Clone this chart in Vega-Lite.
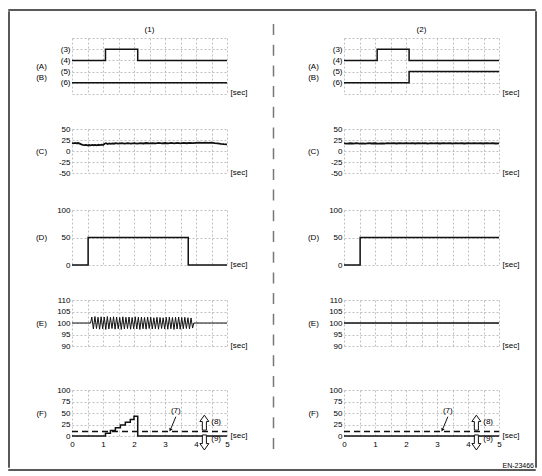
{
  "$schema": "https://vega.github.io/schema/vega-lite/v6.json",
  "padding": {"left": 8, "top": 9, "right": 2, "bottom": 2},
  "background": "white",
  "config": {
    "font": "Liberation Sans",
    "view": {"stroke": null},
    "axis": {"domain": false, "ticks": false, "grid": true, "gridColor": "#b0b0b0", "gridDash": [2, 2], "gridWidth": 0.8, "labelFontSize": 8, "labelColor": "#000", "labelPadding": 2, "labelFlush": false, "labelOverlap": false, "labelBound": false, "titleFontSize": 8, "titleFontWeight": "normal", "titleColor": "#000", "titlePadding": 0},
    "title": {"fontSize": 8, "fontWeight": "normal", "color": "#000"},
    "point": {"opacity": 1}
  },
  "datasets": {
    "abL": [{"s": "A", "t": 0, "v": 3}, {"s": "A", "t": 1.08, "v": 4}, {"s": "A", "t": 2.12, "v": 3}, {"s": "A", "t": 5, "v": 3}, {"s": "B", "t": 0, "v": 1}, {"s": "B", "t": 5, "v": 1}],
    "abR": [{"s": "A", "t": 0, "v": 3}, {"s": "A", "t": 1.07, "v": 4}, {"s": "A", "t": 2.1, "v": 3}, {"s": "A", "t": 5, "v": 3}, {"s": "B", "t": 0, "v": 1}, {"s": "B", "t": 2.1, "v": 2}, {"s": "B", "t": 5, "v": 2}],
    "cL": [{"t": 0, "v": 18}, {"t": 0.05, "v": 17.2}, {"t": 0.1, "v": 18.4}, {"t": 0.15, "v": 17.6}, {"t": 0.2, "v": 18.1}, {"t": 0.25, "v": 16.8}, {"t": 0.3, "v": 15.2}, {"t": 0.35, "v": 14.1}, {"t": 0.4, "v": 13.3}, {"t": 0.45, "v": 14.0}, {"t": 0.5, "v": 12.8}, {"t": 0.55, "v": 13.6}, {"t": 0.6, "v": 12.9}, {"t": 0.65, "v": 13.8}, {"t": 0.7, "v": 13.1}, {"t": 0.75, "v": 13.9}, {"t": 0.8, "v": 13.0}, {"t": 0.85, "v": 14.1}, {"t": 0.9, "v": 13.4}, {"t": 0.95, "v": 14.3}, {"t": 1.0, "v": 13.7}, {"t": 1.05, "v": 16.5}, {"t": 1.1, "v": 17.6}, {"t": 1.15, "v": 15.9}, {"t": 1.2, "v": 17.2}, {"t": 1.25, "v": 16.3}, {"t": 1.3, "v": 17.4}, {"t": 1.35, "v": 16.6}, {"t": 1.4, "v": 17.8}, {"t": 1.5, "v": 16.9}, {"t": 1.6, "v": 17.7}, {"t": 1.7, "v": 16.8}, {"t": 1.8, "v": 17.9}, {"t": 1.9, "v": 17.0}, {"t": 2.0, "v": 17.8}, {"t": 2.1, "v": 16.9}, {"t": 2.2, "v": 18.0}, {"t": 2.3, "v": 17.1}, {"t": 2.4, "v": 18.2}, {"t": 2.5, "v": 17.3}, {"t": 2.6, "v": 18.1}, {"t": 2.7, "v": 17.2}, {"t": 2.8, "v": 18.3}, {"t": 2.9, "v": 17.4}, {"t": 3.0, "v": 18.2}, {"t": 3.1, "v": 17.3}, {"t": 3.2, "v": 18.4}, {"t": 3.3, "v": 17.5}, {"t": 3.4, "v": 18.3}, {"t": 3.5, "v": 17.4}, {"t": 3.6, "v": 18.5}, {"t": 3.7, "v": 17.6}, {"t": 3.8, "v": 18.4}, {"t": 3.9, "v": 17.7}, {"t": 4.0, "v": 18.6}, {"t": 4.1, "v": 18.9}, {"t": 4.2, "v": 18.3}, {"t": 4.3, "v": 19.1}, {"t": 4.4, "v": 18.4}, {"t": 4.5, "v": 18.8}, {"t": 4.6, "v": 17.9}, {"t": 4.7, "v": 17.2}, {"t": 4.8, "v": 16.1}, {"t": 4.9, "v": 15.4}, {"t": 5.0, "v": 15.0}],
    "cR": [{"t": 0, "v": 17.5}, {"t": 0.1, "v": 16.9}, {"t": 0.2, "v": 17.6}, {"t": 0.3, "v": 17.0}, {"t": 0.4, "v": 17.8}, {"t": 0.5, "v": 16.8}, {"t": 0.6, "v": 17.4}, {"t": 0.7, "v": 16.9}, {"t": 0.8, "v": 17.7}, {"t": 0.9, "v": 17.1}, {"t": 1.0, "v": 17.6}, {"t": 1.1, "v": 16.8}, {"t": 1.2, "v": 17.5}, {"t": 1.3, "v": 17.0}, {"t": 1.4, "v": 17.8}, {"t": 1.5, "v": 17.2}, {"t": 1.6, "v": 17.9}, {"t": 1.7, "v": 17.1}, {"t": 1.8, "v": 17.7}, {"t": 1.9, "v": 17.3}, {"t": 2.0, "v": 18.0}, {"t": 2.1, "v": 17.2}, {"t": 2.2, "v": 17.8}, {"t": 2.3, "v": 17.1}, {"t": 2.4, "v": 17.9}, {"t": 2.5, "v": 17.3}, {"t": 2.6, "v": 17.7}, {"t": 2.7, "v": 17.0}, {"t": 2.8, "v": 17.8}, {"t": 2.9, "v": 17.2}, {"t": 3.0, "v": 17.6}, {"t": 3.1, "v": 17.1}, {"t": 3.2, "v": 17.9}, {"t": 3.3, "v": 17.3}, {"t": 3.4, "v": 17.7}, {"t": 3.5, "v": 17.0}, {"t": 3.6, "v": 17.8}, {"t": 3.7, "v": 17.2}, {"t": 3.8, "v": 17.6}, {"t": 3.9, "v": 17.1}, {"t": 4.0, "v": 17.7}, {"t": 4.1, "v": 17.2}, {"t": 4.2, "v": 17.8}, {"t": 4.3, "v": 17.3}, {"t": 4.4, "v": 17.6}, {"t": 4.5, "v": 17.1}, {"t": 4.6, "v": 17.7}, {"t": 4.7, "v": 17.2}, {"t": 4.8, "v": 17.6}, {"t": 4.9, "v": 17.1}, {"t": 5.0, "v": 17.4}],
    "dL": [{"t": 0, "v": 0}, {"t": 0.52, "v": 50}, {"t": 3.75, "v": 0}, {"t": 5, "v": 0}],
    "dR": [{"t": 0, "v": 0}, {"t": 0.52, "v": 50}, {"t": 5, "v": 50}],
    "eL": [{"t": 0, "v": 100}, {"t": 0.6, "v": 100}, {"t": 0.64, "v": 102.6}, {"t": 0.69, "v": 97.4}, {"t": 0.74, "v": 102.8}, {"t": 0.79, "v": 97.6}, {"t": 0.84, "v": 102.5}, {"t": 0.89, "v": 97.3}, {"t": 0.94, "v": 102.7}, {"t": 0.99, "v": 97.5}, {"t": 1.04, "v": 102.6}, {"t": 1.09, "v": 97.2}, {"t": 1.14, "v": 102.8}, {"t": 1.19, "v": 97.4}, {"t": 1.24, "v": 102.5}, {"t": 1.29, "v": 97.6}, {"t": 1.34, "v": 102.7}, {"t": 1.39, "v": 97.3}, {"t": 1.44, "v": 102.6}, {"t": 1.49, "v": 97.5}, {"t": 1.54, "v": 102.4}, {"t": 1.59, "v": 97.2}, {"t": 1.64, "v": 102.7}, {"t": 1.69, "v": 97.4}, {"t": 1.74, "v": 102.5}, {"t": 1.79, "v": 97.6}, {"t": 1.84, "v": 102.6}, {"t": 1.89, "v": 97.3}, {"t": 1.94, "v": 102.4}, {"t": 1.99, "v": 97.5}, {"t": 2.04, "v": 102.7}, {"t": 2.09, "v": 97.4}, {"t": 2.14, "v": 102.5}, {"t": 2.19, "v": 97.2}, {"t": 2.24, "v": 102.6}, {"t": 2.29, "v": 97.5}, {"t": 2.34, "v": 102.4}, {"t": 2.39, "v": 97.3}, {"t": 2.44, "v": 102.6}, {"t": 2.49, "v": 97.6}, {"t": 2.54, "v": 102.5}, {"t": 2.59, "v": 97.4}, {"t": 2.64, "v": 102.3}, {"t": 2.69, "v": 97.5}, {"t": 2.74, "v": 102.5}, {"t": 2.79, "v": 97.3}, {"t": 2.84, "v": 102.4}, {"t": 2.89, "v": 97.6}, {"t": 2.94, "v": 102.3}, {"t": 2.99, "v": 97.4}, {"t": 3.04, "v": 102.5}, {"t": 3.09, "v": 97.3}, {"t": 3.14, "v": 102.6}, {"t": 3.19, "v": 97.5}, {"t": 3.24, "v": 102.4}, {"t": 3.29, "v": 97.2}, {"t": 3.34, "v": 102.5}, {"t": 3.39, "v": 97.4}, {"t": 3.44, "v": 102.6}, {"t": 3.49, "v": 97.3}, {"t": 3.54, "v": 102.4}, {"t": 3.59, "v": 97.5}, {"t": 3.64, "v": 102.5}, {"t": 3.69, "v": 97.6}, {"t": 3.74, "v": 102.3}, {"t": 3.79, "v": 97.4}, {"t": 3.84, "v": 102.2}, {"t": 3.89, "v": 97.8}, {"t": 3.93, "v": 100}, {"t": 5, "v": 100}],
    "eR": [{"t": 0, "v": 100}, {"t": 5, "v": 100}],
    "fL": [{"t": 0, "v": 0}, {"t": 1.08, "v": 6}, {"t": 1.24, "v": 12}, {"t": 1.4, "v": 18}, {"t": 1.56, "v": 24}, {"t": 1.72, "v": 30}, {"t": 1.88, "v": 36}, {"t": 2.0, "v": 43}, {"t": 2.12, "v": 0}, {"t": 5, "v": 0}],
    "fR": [{"t": 0, "v": 0}, {"t": 5, "v": 0}],
    "thr": [{"t": 0, "v": 10}, {"t": 5, "v": 10}],
    "fLab": [{"t": 3.35, "v": 54, "txt": "(7)"}, {"t": 4.65, "v": 30, "txt": "(8)"}, {"t": 4.65, "v": -7, "txt": "(9)"}],
    "fArr": [{"t": 3.35, "v": 42, "t2": 3.19, "v2": 16}],
    "fHead": [{"t": 3.17, "v": 13}],
    "blk": [{"dir": "up", "t": 4.27, "v": 29}, {"dir": "down", "t": 4.27, "v": -14}]
  },
  "spacing": 0,
  "vconcat": [
    {"width": 526, "height": 0.01, "data": {"values": []}, "mark": "point", "view": {"stroke": "#222", "strokeWidth": 1.5}},
    {"spacing": 25, "hconcat": [
      {"width": 0.01, "height": 455, "data": {"values": []}, "mark": "point", "view": {"stroke": "#222", "strokeWidth": 1.5}},
      {"spacing": 1, "hconcat": [
        {"spacing": 25, "hconcat": [
          {"bounds": "flush", "spacing": 0, "vconcat": [
            {"width": 1, "height": 26, "data": {"values": []}, "mark": "point"},
            {"width": 155, "height": 56, "title": {"text": "(1)", "frame": "group", "offset": 0}, "data": {"name": "abL"},
              "mark": {"type": "line", "interpolate": "step-after", "color": "#111", "strokeWidth": 1.5},
              "encoding": {
                "x": {"field": "t", "type": "quantitative", "scale": {"domain": [0, 5], "nice": false}, "axis": {"values": [0, 0.5, 1, 1.5, 2, 2.5, 3, 3.5, 4, 4.5, 5], "labels": false, "title": "[sec]", "titleX": 158, "titleY": -2, "titleAlign": "left", "titleBaseline": "middle"}},
                "y": {"field": "v", "type": "quantitative", "scale": {"domain": [0, 5], "nice": false}, "axis": {"values": [0, 1, 2, 3, 4, 5], "labelExpr": "datum.value == 4 ? '(3)' : datum.value == 3 ? '(4)' : datum.value == 2 ? '(5)' : datum.value == 1 ? '(6)' : ''", "title": ["(A)", "", "(B)"], "titleAngle": 0, "titleX": -31, "titleY": 28, "titleAlign": "center", "titleBaseline": "middle", "titleLineHeight": 11}},
                "detail": {"field": "s", "type": "nominal"}
              }},
            {"width": 1, "height": 35, "data": {"values": []}, "mark": "point"},
            {"width": 155, "height": 44, "data": {"name": "cL"},
              "mark": {"type": "line", "color": "#111", "strokeWidth": 1.8},
              "encoding": {
                "x": {"field": "t", "type": "quantitative", "scale": {"domain": [0, 5], "nice": false}, "axis": {"values": [0, 0.5, 1, 1.5, 2, 2.5, 3, 3.5, 4, 4.5, 5], "labels": false, "title": "[sec]", "titleX": 158, "titleY": -1, "titleAlign": "left", "titleBaseline": "middle"}},
                "y": {"field": "v", "type": "quantitative", "scale": {"domain": [-50, 50], "nice": false}, "axis": {"values": [-50, -25, 0, 25, 50], "labelExpr": "'' + datum.value", "title": "(C)", "titleAngle": 0, "titleX": -31, "titleY": 22, "titleAlign": "center", "titleBaseline": "middle"}}
              }},
            {"width": 1, "height": 37, "data": {"values": []}, "mark": "point"},
            {"width": 155, "height": 55, "data": {"name": "dL"},
              "mark": {"type": "line", "interpolate": "step-after", "color": "#111", "strokeWidth": 1.5},
              "encoding": {
                "x": {"field": "t", "type": "quantitative", "scale": {"domain": [0, 5], "nice": false}, "axis": {"values": [0, 0.5, 1, 1.5, 2, 2.5, 3, 3.5, 4, 4.5, 5], "labels": false, "title": "[sec]", "titleX": 158, "titleY": -1, "titleAlign": "left", "titleBaseline": "middle"}},
                "y": {"field": "v", "type": "quantitative", "scale": {"domain": [0, 100], "nice": false}, "axis": {"values": [0, 50, 100], "labelExpr": "'' + datum.value", "title": "(D)", "titleAngle": 0, "titleX": -31, "titleY": 27.5, "titleAlign": "center", "titleBaseline": "middle"}}
              }},
            {"width": 1, "height": 35, "data": {"values": []}, "mark": "point"},
            {"width": 155, "height": 46, "data": {"name": "eL"},
              "mark": {"type": "line", "color": "#111", "strokeWidth": 1},
              "encoding": {
                "x": {"field": "t", "type": "quantitative", "scale": {"domain": [0, 5], "nice": false}, "axis": {"values": [0, 0.5, 1, 1.5, 2, 2.5, 3, 3.5, 4, 4.5, 5], "labels": false, "title": "[sec]", "titleX": 158, "titleY": -1, "titleAlign": "left", "titleBaseline": "middle"}},
                "y": {"field": "v", "type": "quantitative", "scale": {"domain": [90, 110], "nice": false, "zero": false}, "axis": {"values": [90, 95, 100, 105, 110], "labelExpr": "'' + datum.value", "title": "(E)", "titleAngle": 0, "titleX": -31, "titleY": 23, "titleAlign": "center", "titleBaseline": "middle"}}
              }},
            {"width": 1, "height": 44, "data": {"values": []}, "mark": "point"},
            {"width": 155, "height": 46,
              "encoding": {
                "x": {"field": "t", "type": "quantitative", "scale": {"domain": [0, 5], "nice": false}, "axis": {"values": [0, 0.5, 1, 1.5, 2, 2.5, 3, 3.5, 4, 4.5, 5], "labelExpr": "datum.value % 1 == 0 ? '' + datum.value : ''", "labelPadding": 4, "title": "[sec]", "titleX": 158, "titleY": -1, "titleAlign": "left", "titleBaseline": "middle"}},
                "y": {"field": "v", "type": "quantitative", "scale": {"domain": [0, 100], "nice": false}, "axis": {"values": [0, 25, 50, 75, 100], "labelExpr": "'' + datum.value", "title": "(F)", "titleAngle": 0, "titleX": -31, "titleY": 23, "titleAlign": "center", "titleBaseline": "middle"}}
              },
              "layer": [
                {"data": {"name": "thr"}, "mark": {"type": "line", "color": "#111", "strokeWidth": 1.5, "strokeDash": [6, 4]}},
                {"data": {"name": "fL"}, "mark": {"type": "line", "interpolate": "step-after", "color": "#111", "strokeWidth": 1.5}},
                {"data": {"name": "fArr"}, "mark": {"type": "rule", "color": "#111", "strokeWidth": 1}, "encoding": {"x2": {"field": "t2"}, "y2": {"field": "v2"}}},
                {"data": {"name": "fHead"}, "mark": {"type": "point", "shape": "triangle-down", "filled": true, "color": "#111", "size": 14, "angle": 25}},
                {"data": {"name": "blk"}, "mark": {"type": "point", "filled": true, "fill": "white", "stroke": "#111", "strokeWidth": 1, "size": 225}, "encoding": {"shape": {"field": "dir", "type": "nominal", "scale": {"domain": ["up", "down"], "range": ["M0,-1L0.6,-0.15L0.27,-0.15L0.27,1L-0.27,1L-0.27,-0.15L-0.6,-0.15Z", "M0,1L0.6,0.15L0.27,0.15L0.27,-1L-0.27,-1L-0.27,0.15L-0.6,0.15Z"]}, "legend": null}}},
                {"data": {"name": "fLab"}, "mark": {"type": "text", "fontSize": 8, "color": "#000"}, "encoding": {"text": {"field": "txt"}}}
              ]}
          ]},
          {"spacing": 32, "hconcat": [
            {"bounds": "flush", "spacing": 0, "vconcat": [
              {"width": 1, "height": 12, "data": {"values": []}, "mark": "point"},
              {"width": 1, "height": 429, "data": {"values": [{"s": "a"}]}, "mark": {"type": "rule", "color": "#777", "strokeWidth": 1.5, "strokeDash": [11, 9.7]}, "encoding": {"x": {"field": "s", "type": "nominal", "axis": null}}}
            ]},
            {"bounds": "flush", "spacing": 0, "vconcat": [
              {"width": 1, "height": 26, "data": {"values": []}, "mark": "point"},
              {"width": 155, "height": 56, "title": {"text": "(2)", "frame": "group", "offset": 0}, "data": {"name": "abR"},
                "mark": {"type": "line", "interpolate": "step-after", "color": "#111", "strokeWidth": 1.5},
                "encoding": {
                  "x": {"field": "t", "type": "quantitative", "scale": {"domain": [0, 5], "nice": false}, "axis": {"values": [0, 0.5, 1, 1.5, 2, 2.5, 3, 3.5, 4, 4.5, 5], "labels": false, "title": "[sec]", "titleX": 158, "titleY": -2, "titleAlign": "left", "titleBaseline": "middle"}},
                  "y": {"field": "v", "type": "quantitative", "scale": {"domain": [0, 5], "nice": false}, "axis": {"values": [0, 1, 2, 3, 4, 5], "labelExpr": "datum.value == 4 ? '(3)' : datum.value == 3 ? '(4)' : datum.value == 2 ? '(5)' : datum.value == 1 ? '(6)' : ''", "title": ["(A)", "", "(B)"], "titleAngle": 0, "titleX": -31, "titleY": 28, "titleAlign": "center", "titleBaseline": "middle", "titleLineHeight": 11}},
                  "detail": {"field": "s", "type": "nominal"}
                }},
              {"width": 1, "height": 35, "data": {"values": []}, "mark": "point"},
              {"width": 155, "height": 44, "data": {"name": "cR"},
                "mark": {"type": "line", "color": "#111", "strokeWidth": 1.8},
                "encoding": {
                  "x": {"field": "t", "type": "quantitative", "scale": {"domain": [0, 5], "nice": false}, "axis": {"values": [0, 0.5, 1, 1.5, 2, 2.5, 3, 3.5, 4, 4.5, 5], "labels": false, "title": "[sec]", "titleX": 158, "titleY": -1, "titleAlign": "left", "titleBaseline": "middle"}},
                  "y": {"field": "v", "type": "quantitative", "scale": {"domain": [-50, 50], "nice": false}, "axis": {"values": [-50, -25, 0, 25, 50], "labelExpr": "'' + datum.value", "title": "(C)", "titleAngle": 0, "titleX": -31, "titleY": 22, "titleAlign": "center", "titleBaseline": "middle"}}
                }},
              {"width": 1, "height": 37, "data": {"values": []}, "mark": "point"},
              {"width": 155, "height": 55, "data": {"name": "dR"},
                "mark": {"type": "line", "interpolate": "step-after", "color": "#111", "strokeWidth": 1.5},
                "encoding": {
                  "x": {"field": "t", "type": "quantitative", "scale": {"domain": [0, 5], "nice": false}, "axis": {"values": [0, 0.5, 1, 1.5, 2, 2.5, 3, 3.5, 4, 4.5, 5], "labels": false, "title": "[sec]", "titleX": 158, "titleY": -1, "titleAlign": "left", "titleBaseline": "middle"}},
                  "y": {"field": "v", "type": "quantitative", "scale": {"domain": [0, 100], "nice": false}, "axis": {"values": [0, 50, 100], "labelExpr": "'' + datum.value", "title": "(D)", "titleAngle": 0, "titleX": -31, "titleY": 27.5, "titleAlign": "center", "titleBaseline": "middle"}}
                }},
              {"width": 1, "height": 35, "data": {"values": []}, "mark": "point"},
              {"width": 155, "height": 46, "data": {"name": "eR"},
                "mark": {"type": "line", "color": "#111", "strokeWidth": 1.5},
                "encoding": {
                  "x": {"field": "t", "type": "quantitative", "scale": {"domain": [0, 5], "nice": false}, "axis": {"values": [0, 0.5, 1, 1.5, 2, 2.5, 3, 3.5, 4, 4.5, 5], "labels": false, "title": "[sec]", "titleX": 158, "titleY": -1, "titleAlign": "left", "titleBaseline": "middle"}},
                  "y": {"field": "v", "type": "quantitative", "scale": {"domain": [90, 110], "nice": false, "zero": false}, "axis": {"values": [90, 95, 100, 105, 110], "labelExpr": "'' + datum.value", "title": "(E)", "titleAngle": 0, "titleX": -31, "titleY": 23, "titleAlign": "center", "titleBaseline": "middle"}}
                }},
              {"width": 1, "height": 44, "data": {"values": []}, "mark": "point"},
              {"width": 155, "height": 46,
                "title": {"text": "EN-23466", "orient": "bottom", "anchor": "end", "frame": "group", "dx": 35, "offset": 10, "fontSize": 7},
                "encoding": {
                  "x": {"field": "t", "type": "quantitative", "scale": {"domain": [0, 5], "nice": false}, "axis": {"values": [0, 0.5, 1, 1.5, 2, 2.5, 3, 3.5, 4, 4.5, 5], "labelExpr": "datum.value % 1 == 0 ? '' + datum.value : ''", "labelPadding": 4, "title": "[sec]", "titleX": 158, "titleY": -1, "titleAlign": "left", "titleBaseline": "middle"}},
                  "y": {"field": "v", "type": "quantitative", "scale": {"domain": [0, 100], "nice": false}, "axis": {"values": [0, 25, 50, 75, 100], "labelExpr": "'' + datum.value", "title": "(F)", "titleAngle": 0, "titleX": -31, "titleY": 23, "titleAlign": "center", "titleBaseline": "middle"}}
                },
                "layer": [
                  {"data": {"name": "thr"}, "mark": {"type": "line", "color": "#111", "strokeWidth": 1.5, "strokeDash": [6, 4]}},
                  {"data": {"name": "fR"}, "mark": {"type": "line", "color": "#111", "strokeWidth": 1.5}},
                  {"data": {"name": "fArr"}, "mark": {"type": "rule", "color": "#111", "strokeWidth": 1}, "encoding": {"x2": {"field": "t2"}, "y2": {"field": "v2"}}},
                  {"data": {"name": "fHead"}, "mark": {"type": "point", "shape": "triangle-down", "filled": true, "color": "#111", "size": 14, "angle": 25}},
                  {"data": {"name": "blk"}, "mark": {"type": "point", "filled": true, "fill": "white", "stroke": "#111", "strokeWidth": 1, "size": 225}, "encoding": {"shape": {"field": "dir", "type": "nominal", "scale": {"domain": ["up", "down"], "range": ["M0,-1L0.6,-0.15L0.27,-0.15L0.27,1L-0.27,1L-0.27,-0.15L-0.6,-0.15Z", "M0,1L0.6,0.15L0.27,0.15L0.27,-1L-0.27,-1L-0.27,0.15L-0.6,0.15Z"]}, "legend": null}}},
                  {"data": {"name": "fLab"}, "mark": {"type": "text", "fontSize": 8, "color": "#000"}, "encoding": {"text": {"field": "txt"}}}
                ]}
            ]}
          ]}
        ]},
        {"width": 0.01, "height": 455, "data": {"values": []}, "mark": "point", "view": {"stroke": "#222", "strokeWidth": 1.5}}
      ]}
    ]},
    {"width": 526, "height": 0.01, "data": {"values": []}, "mark": "point", "view": {"stroke": "#222", "strokeWidth": 1.5}}
  ]
}
